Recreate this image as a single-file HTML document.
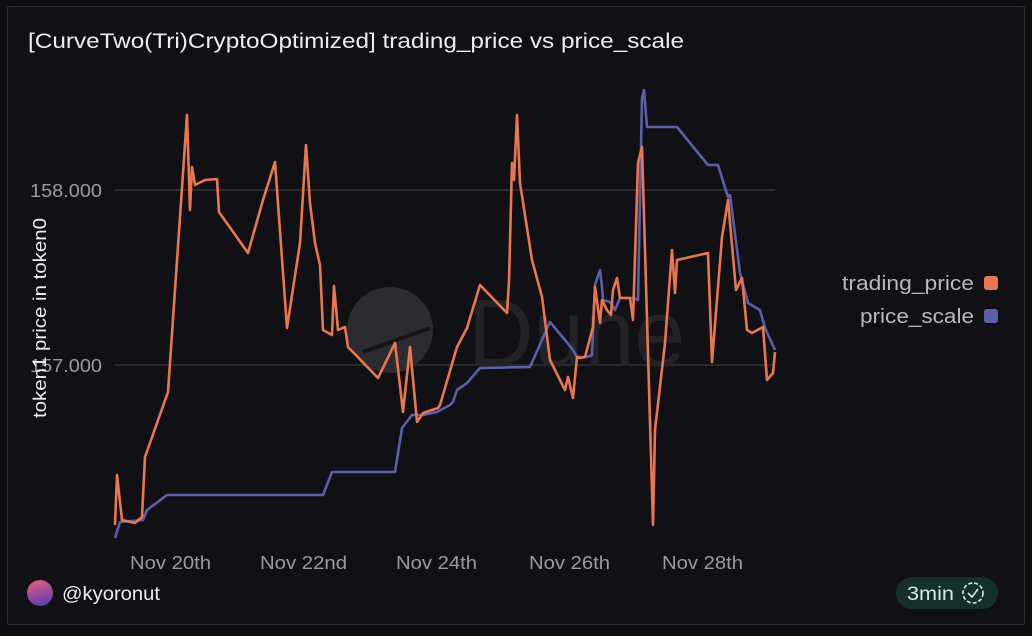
<!DOCTYPE html>
<html><head><meta charset="utf-8"><style>
body{margin:0;width:1032px;height:636px;background:#0e0e11;overflow:hidden;font-family:"Liberation Sans",sans-serif}
.card{position:absolute;left:7px;top:6px;width:1016px;height:617px;border:1px solid #2a2a2e;background:#111115;border-radius:2px}
</style></head><body>
<div class="card"></div>
<svg width="1032" height="636" style="position:absolute;left:0;top:0">
<text x="28" y="48" fill="#ededf0" font-size="21" textLength="656" lengthAdjust="spacingAndGlyphs">[CurveTwo(Tri)CryptoOptimized] trading_price vs price_scale</text>
<line x1="115" y1="190" x2="775" y2="190" stroke="#3a3a3e" stroke-width="1.2"/>
<line x1="115" y1="365" x2="775" y2="365" stroke="#3a3a3e" stroke-width="1.2"/>
<circle cx="390" cy="330" r="43" fill="#2c2c30"/>
<line x1="363" y1="352" x2="430" y2="328" stroke="#151518" stroke-width="4"/>
<text x="468" y="366" fill="#232326" font-size="96" textLength="217" lengthAdjust="spacingAndGlyphs">Dune</text>
<text x="30" y="197" fill="#9a9aa0" font-size="18" textLength="72" lengthAdjust="spacingAndGlyphs">158.000</text>
<text x="30" y="372" fill="#9a9aa0" font-size="18" textLength="72" lengthAdjust="spacingAndGlyphs">157.000</text>
<text transform="translate(46,318) rotate(-90)" fill="#ededf0" font-size="18" text-anchor="middle" textLength="200" lengthAdjust="spacingAndGlyphs">token1 price in token0</text>
<g fill="#9a9aa0" font-size="18">
<text x="130" y="569" textLength="81" lengthAdjust="spacingAndGlyphs">Nov 20th</text><text x="260" y="569" textLength="87" lengthAdjust="spacingAndGlyphs">Nov 22nd</text><text x="396" y="569" textLength="81" lengthAdjust="spacingAndGlyphs">Nov 24th</text><text x="529" y="569" textLength="81" lengthAdjust="spacingAndGlyphs">Nov 26th</text><text x="662" y="569" textLength="81" lengthAdjust="spacingAndGlyphs">Nov 28th</text></g>
<polyline fill="none" stroke="#5a5fa8" stroke-width="2.6" stroke-linejoin="round" points="115,538 120,522 143,520 147,510 167,495 323,495 332,472 395,472 402,428 412,415 423,415 437,412 450,405 453,402 457,390 467,383 480,368 530,367 550,322 565,340 573,350 577,357 587,357 592,355 595,285 600,270 602,287 603,300 610,302 615,310 620,298 633,298 638,300 642,98 644,90 647,127 677,127 708,165 718,165 728,197 730,195 740,273 748,303 760,310 765,328 775,350"/>
<polyline fill="none" stroke="#e8774f" stroke-width="2.6" stroke-linejoin="round" points="115,525 117,475 122,520 135,523 142,517 145,457 168,392 187,115 190,210 192,167 195,185 205,180 217,179 219,212 248,253 263,200 275,162 287,328 300,243 306,145 310,203 315,243 320,265 323,330 332,335 334,286 338,330 345,327 348,347 378,378 395,343 403,412 410,347 417,422 423,413 438,408 440,405 457,347 467,328 480,285 507,313 509,282 512,163 514,180 517,115 520,183 532,260 542,297 550,360 565,390 568,377 573,398 577,357 580,358 585,357 593,327 595,287 600,323 602,300 607,310 611,315 613,290 617,278 620,298 630,298 633,320 638,163 642,147 653,525 655,430 665,343 672,250 675,293 677,260 708,253 712,362 722,237 728,200 736,290 742,278 747,330 752,333 763,327 767,380 773,373 775,352"/>
<g font-size="20" fill="#b8b8be"><text x="842" y="290" textLength="132" lengthAdjust="spacingAndGlyphs">trading_price</text><text x="860" y="323" textLength="114" lengthAdjust="spacingAndGlyphs">price_scale</text></g>
<rect x="984" y="276" width="14" height="14" rx="3" fill="#e8774f"/>
<rect x="984" y="309" width="14" height="14" rx="3" fill="#5a5fa8"/>
<defs><linearGradient id="g" x1="0" y1="0" x2="0.3" y2="1"><stop offset="0" stop-color="#e8607a"/><stop offset="1" stop-color="#6a3fb0"/></linearGradient></defs>
<circle cx="40" cy="593" r="13" fill="url(#g)"/>
<text x="62" y="600" fill="#ededf0" font-size="19" textLength="98" lengthAdjust="spacingAndGlyphs">@kyoronut</text>
<rect x="896" y="577" width="102" height="32" rx="16" fill="#15302a"/>
<text x="907" y="600" fill="#cfeee0" font-size="19" textLength="47" lengthAdjust="spacingAndGlyphs">3min</text>
<circle cx="973" cy="593" r="10" fill="none" stroke="#cfeee0" stroke-width="1.6" stroke-dasharray="4 2"/>
<polyline points="968,593 972,597 978,589" fill="none" stroke="#cfeee0" stroke-width="1.6"/>
</svg>
</body></html>
